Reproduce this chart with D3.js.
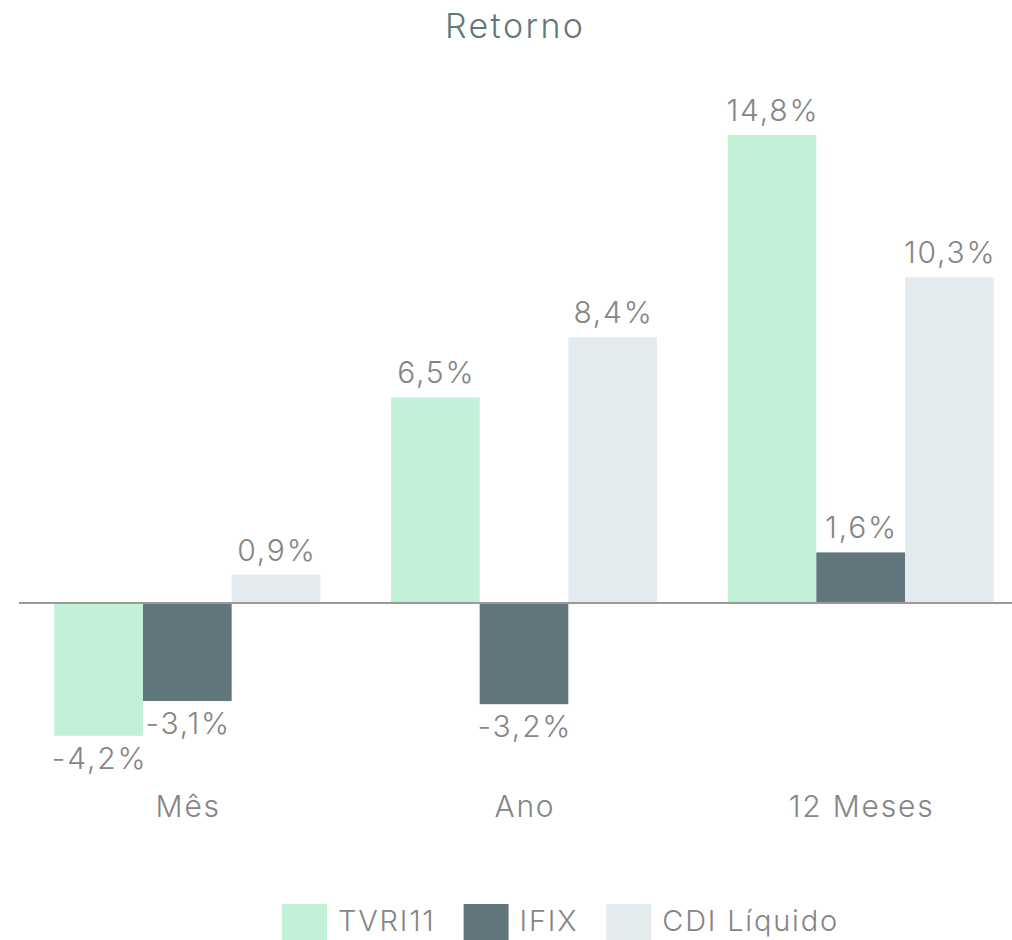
<!DOCTYPE html>
<html>
<head>
<meta charset="utf-8">
<script src="https://cdn.jsdelivr.net/npm/d3@7"></script>
<style>
  html, body { margin: 0; padding: 0; background: #fff; }
  svg { display: block; font-family: Inter, "Noto Sans", sans-serif; }
</style>
</head>
<body>
<svg id="chart" width="1012" height="940"></svg>
<script>
var categories = ["Mês", "Ano", "12 Meses"];
var seriesNames = ["TVRI11", "IFIX", "CDI Líquido"];
var tvri11 = [-4.2, 6.5, 14.8];
var ifix = [-3.1, -3.2, 1.6];
var cdi = [0.9, 8.4, 10.3];
var seriesColors = ["#c1f2d7", "#62767e", "#e3ebef"];
var textColor = "#858585";

var seriesValues = [tvri11, ifix, cdi];
var data = categories.map(function(c, i) {
  return {
    category: c,
    values: seriesNames.map(function(s, j) {
      return { name: s, value: seriesValues[j][i] };
    })
  };
});

function fmt(v) {
  return v.toFixed(1).replace(".", ",") + "%";
}

var svg = d3.select("#chart");
var width = 1012;
var spacing = 1.8;

var x0 = d3.scaleBand()
  .domain(categories)
  .range([19, 1029])
  .paddingInner(0.21)
  .paddingOuter(0.105);

var x1 = d3.scaleBand()
  .domain(seriesNames)
  .range([0, x0.bandwidth()]);

var y = d3.scaleLinear()
  .domain([0, 14.8])
  .range([603, 135]);

// title
svg.append("text")
  .attr("x", 514)
  .attr("dx", 1.2)
  .attr("y", 38)
  .attr("text-anchor", "middle")
  .attr("fill", "#5f7880")
  .style("font-size", "34px")
  .style("font-weight", 300)
  .style("letter-spacing", "2.4px")
  .text("Retorno");

var groups = svg.selectAll("g.group")
  .data(data)
  .enter()
  .append("g")
  .attr("class", "group")
  .attr("transform", function(d) { return "translate(" + x0(d.category) + ",0)"; });

groups.selectAll("rect")
  .data(function(d) { return d.values; })
  .enter()
  .append("rect")
  .attr("x", function(d) { return x1(d.name); })
  .attr("width", x1.bandwidth())
  .attr("y", function(d) { return y(Math.max(0, d.value)); })
  .attr("height", function(d) { return Math.abs(y(d.value) - y(0)); })
  .attr("fill", function(d, i) { return seriesColors[i]; });

groups.selectAll("text.val")
  .data(function(d) { return d.values; })
  .enter()
  .append("text")
  .attr("class", "val")
  .attr("x", function(d) { return x1(d.name) + x1.bandwidth() / 2; })
  .attr("dx", spacing / 2)
  .attr("y", function(d) { return d.value >= 0 ? y(d.value) - 14 : y(d.value) + 33; })
  .attr("text-anchor", "middle")
  .attr("fill", textColor)
  .style("font-size", "30px")
  .style("font-weight", 300)
  .style("letter-spacing", spacing + "px")
  .text(function(d) { return fmt(d.value); });

// zero line
svg.append("line")
  .attr("x1", 19)
  .attr("x2", width)
  .attr("y1", y(0))
  .attr("y2", y(0))
  .attr("stroke", "#9a9a9a")
  .attr("stroke-width", 2);

// category labels
svg.append("g")
  .selectAll("text")
  .data(categories)
  .enter()
  .append("text")
  .attr("x", function(d) { return x0(d) + x0.bandwidth() / 2; })
  .attr("dx", spacing / 2)
  .attr("y", 817)
  .attr("text-anchor", "middle")
  .attr("fill", textColor)
  .style("font-size", "30px")
  .style("font-weight", 300)
  .style("letter-spacing", spacing + "px")
  .text(function(d) { return d; });

// legend
var legend = svg.append("g");
var lx = 282;
seriesNames.forEach(function(name, i) {
  legend.append("rect")
    .attr("x", lx)
    .attr("y", 904)
    .attr("width", 45)
    .attr("height", 45)
    .attr("fill", seriesColors[i]);
  var t = legend.append("text")
    .attr("x", lx + 56)
    .attr("y", 931)
    .attr("fill", textColor)
    .style("font-size", "29px")
    .style("font-weight", 300)
    .style("letter-spacing", spacing + "px")
    .text(name);
  lx = lx + 56 + t.node().getComputedTextLength() + 28;
});
</script>
</body>
</html>
